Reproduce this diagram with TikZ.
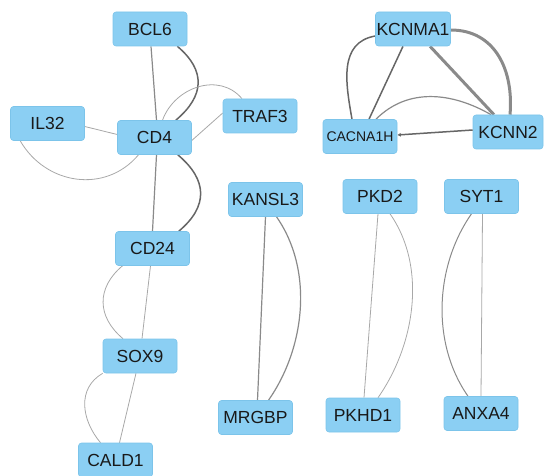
\documentclass[tikz,border=0pt]{standalone}
\usepackage{fontspec}
\setmainfont{Liberation Sans}
\usetikzlibrary{positioning, arrows.meta, backgrounds}
\definecolor{geneFill}{HTML}{8BCFF3}
\definecolor{geneLine}{HTML}{7CC4EA}
\definecolor{lightEdge}{HTML}{A8A8A8}
\definecolor{midEdge}{HTML}{8A8A8A}
\definecolor{darkEdge}{HTML}{666666}
\tikzset{
Gene/.style={
  fill=geneFill, draw=geneLine, line width=0.6pt,
  rounded corners=3pt,
  minimum width=74pt, minimum height=34pt,
  inner sep=1pt, text=black!90,
  font=\fontsize{17.5}{19}\selectfont,
  },
Light/.style={draw=lightEdge, line width=0.8pt},
Mid/.style={draw=midEdge, line width=1.2pt},
Dark/.style={draw=darkEdge, line width=1.5pt},
Thick/.style={draw=midEdge, line width=3pt},
}

\begin{document}
\begin{tikzpicture}[x=1pt, y=-1pt]
    \useasboundingbox (0,0) rectangle (544,476);

    % CD4 cluster
    \node[Gene] (BCL6) at (150,29) {BCL6};
    \node[Gene] (IL32) at (47.5,123.5) {IL32};
    \node[Gene] (CD4) at (154.5,137.5) {CD4};
    \node[Gene] (TRAF3) at (260,116) {TRAF3};
    \node[Gene] (CD24) at (152.5,248.5) {CD24};
    \node[Gene] (SOX9) at (140,356) {SOX9};
    \node[Gene] (CALD1) at (115.5,460) {CALD1};

    % pairs
    \node[Gene] (KANSL3) at (265.5,199.5) {KANSL3};
    \node[Gene] (MRGBP) at (255.5,417.5) {MRGBP};
    \node[Gene] (PKD2) at (380,196.5) {PKD2};
    \node[Gene] (PKHD1) at (363,415) {PKHD1};
    \node[Gene] (SYT1) at (481.5,196.5) {SYT1};
    \node[Gene] (ANXA4) at (481,413.5) {ANXA4};

    % channel cluster
    \node[Gene] (KCNMA1) at (413,29) {KCNMA1};
    \node[Gene, font=\fontsize{14}{16}\selectfont] (CACNA1H) at (360,136.5) {CACNA1H};
    \node[Gene, minimum width=70pt] (KCNN2) at (508,132) {KCNN2};

    \begin{scope}[on background layer]
    % CD4 edges
    \draw[Mid] ([xshift=1pt]BCL6.south) -- ([xshift=2pt]CD4.north);
    \draw[Dark] ([xshift=-10pt]BCL6.south east) to[out=-40, in=40, looseness=1.3] ([xshift=-16pt]CD4.north east);
    \draw[Light] ([yshift=-3pt]IL32.east) -- ([yshift=3pt]CD4.west);
    \draw[Light] ([xshift=10pt]IL32.south west) to[out=-60, in=-130, looseness=1.1] ([xshift=-16pt]CD4.south);
    \draw[Light] ([yshift=-3pt]CD4.east) -- ([yshift=3pt]TRAF3.west);
    \draw[Light] ([xshift=8pt]CD4.north) to[out=70, in=130, looseness=1.1] ([xshift=-18pt]TRAF3.north);
    \draw[Mid] ([xshift=2pt]CD4.south) -- (CD24.north);
    \draw[Dark] ([xshift=-14pt]CD4.south east) to[out=-40, in=40, looseness=1.3] ([xshift=-11pt]CD24.north east);
    \draw[Light] ([xshift=-2pt]CD24.south) -- ([xshift=2pt]SOX9.north);
    \draw[Light] ([xshift=-30pt]CD24.south) to[out=-140, in=140, looseness=1.2] ([xshift=-17pt]SOX9.north);
    \draw[Light] ([xshift=-4pt]SOX9.south) -- ([xshift=4pt]CALD1.north);
    \draw[Light] (SOX9.south west) to[out=-150, in=130, looseness=1.1] ([xshift=-15pt]CALD1.north);

    % pair edges
    \draw[Mid] (KANSL3.south) -- ([xshift=2pt]MRGBP.north);
    \draw[Mid] ([xshift=11pt]KANSL3.south) to[out=-55, in=55, looseness=0.9] ([xshift=13pt]MRGBP.north);
    \draw[Light] ([xshift=-2pt]PKD2.south) -- ([xshift=1pt]PKHD1.north);
    \draw[Light] ([xshift=10pt]PKD2.south) to[out=-55, in=55, looseness=0.9] ([xshift=15pt]PKHD1.north);
    \draw[Light] ([xshift=1pt]SYT1.south) -- (ANXA4.north);
    \draw[Mid, line width=1pt] ([xshift=-10pt]SYT1.south) to[out=-125, in=125, looseness=0.9] ([xshift=-13pt]ANXA4.north);

    % channel edges
    \draw[Dark] ([yshift=-7pt]KCNMA1.west) to[out=190, in=100, looseness=1.1] ([xshift=-8pt]CACNA1H.north);
    \draw[Dark] ([xshift=-10pt]KCNMA1.south) -- ([xshift=9pt]CACNA1H.north);
    \draw[Thick] ([xshift=17pt]KCNMA1.south) -- ([xshift=-14pt]KCNN2.north);
    \draw[Thick] ([yshift=-1pt]KCNMA1.east) to[out=0, in=85, looseness=1.1] ([xshift=2pt]KCNN2.north);
    \draw[Mid] ([xshift=16pt]CACNA1H.north) to[out=45, in=150, looseness=1] ([xshift=-17pt]KCNN2.north);
    \end{scope}
    \draw[Dark, -{Latex[length=3.5pt, width=4pt]}] ([yshift=2pt]KCNN2.west) -- ([yshift=1.5pt]CACNA1H.east);
\end{tikzpicture}
\end{document}
